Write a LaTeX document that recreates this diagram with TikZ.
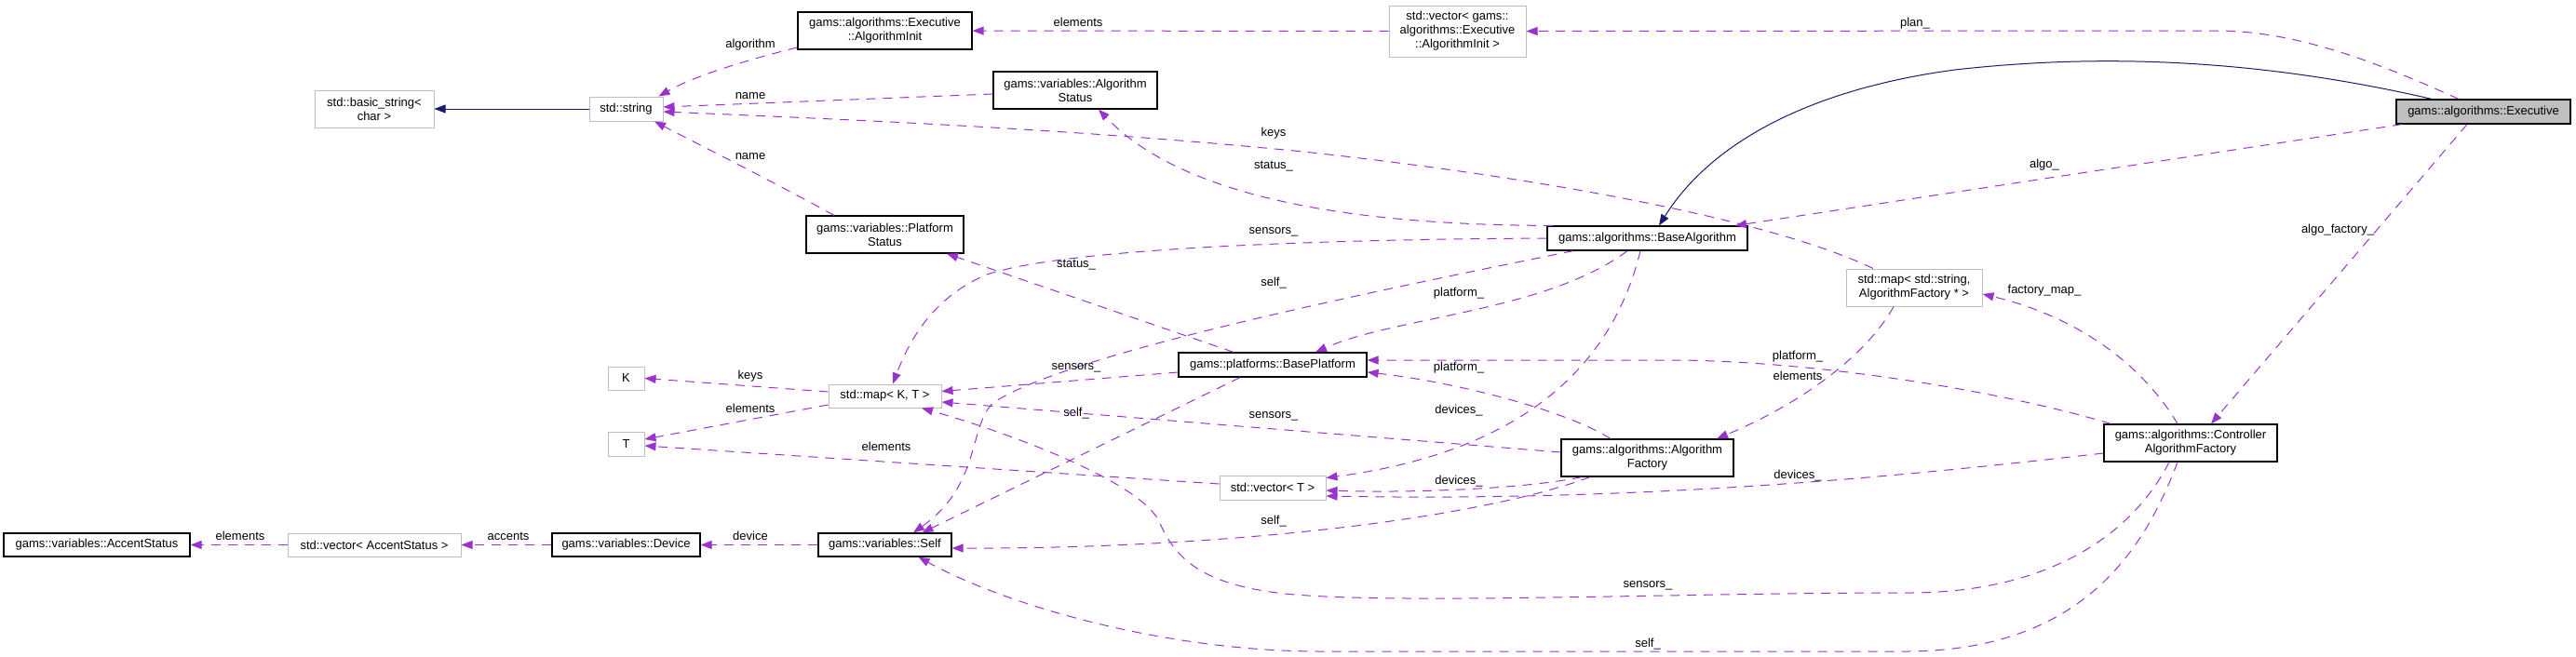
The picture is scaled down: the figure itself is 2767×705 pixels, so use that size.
\documentclass[tikz,border=0pt]{standalone}
\usepackage{fontspec}
\setmainfont{Liberation Sans}
\usepackage{tikz}
\usetikzlibrary{
arrows.meta
}
\definecolor{edgepurple}{HTML}{9A32CD}
\definecolor{inhblue}{HTML}{191970}
\definecolor{boxgray}{HTML}{BFBFBF}
\newcommand{\dxfont}{\fontsize{13}{15}\selectfont}

\begin{document}
\begin{tikzpicture}[x=1pt,y=-1pt,
  klass/.style={draw=black,line width=1.2pt,fill=white,inner sep=0pt,align=center,font=\dxfont},
  tmpl/.style={klass,draw=boxgray,line width=1pt},
  focus/.style={klass,fill=boxgray},
  member/.style={draw=edgepurple,line width=1pt,dash pattern=on 10pt off 8pt,-{Triangle[length=12pt,width=9pt]}},
  inherit/.style={draw=inhblue,line width=1pt,-{Triangle[length=12pt,width=9pt]}},
  lbl/.style={text=black,inner sep=0pt,font=\dxfont}]
      \useasboundingbox (0,0) rectangle (2767,705);
      % classes
      \node[tmpl,minimum width=128pt,minimum height=40pt] (bstr) at (402,117) {std::basic\_string<\\ char >};
      \node[tmpl,minimum width=79pt,minimum height=26pt] (str) at (672.5,117) {std::string};
      \node[klass,minimum width=187pt,minimum height=40pt] (init) at (950.5,33) {gams::algorithms::Executive\\::AlgorithmInit};
      \node[klass,minimum width=176pt,minimum height=40pt] (algst) at (1155,97) {gams::variables::Algorithm\\Status};
      \node[klass,minimum width=169pt,minimum height=40pt] (platst) at (950.5,252) {gams::variables::Platform\\Status};
      \node[tmpl,minimum width=147pt,minimum height=55pt] (vinit) at (1565.5,33.5) {std::vector< gams::\\algorithms::Executive\\::AlgorithmInit >};
      \node[klass,minimum width=215pt,minimum height=26pt] (basealg) at (1769.5,256) {gams::algorithms::BaseAlgorithm};
      \node[tmpl,minimum width=146pt,minimum height=40pt] (mapsaf) at (2056,309) {std::map< std::string,\\ AlgorithmFactory * >};
      \node[focus,minimum width=187pt,minimum height=26pt] (exec) at (2667.5,120) {gams::algorithms::Executive};
      \node[tmpl,minimum width=39pt,minimum height=25pt] (K) at (672.5,406.5) {K};
      \node[tmpl,minimum width=39pt,minimum height=26pt] (T) at (672.5,477) {T};
      \node[klass,minimum width=200pt,minimum height=25pt] (accst) at (104,585.5) {gams::variables::AccentStatus};
      \node[tmpl,minimum width=186pt,minimum height=25pt] (vaccst) at (402,585.5) {std::vector< AccentStatus >};
      \node[klass,minimum width=159pt,minimum height=25pt] (device) at (672.5,585.5) {gams::variables::Device};
      \node[tmpl,minimum width=121pt,minimum height=25pt] (mapkt) at (950.5,425.5) {std::map< K, T >};
      \node[klass,minimum width=143pt,minimum height=25pt] (self) at (950.5,585.5) {gams::variables::Self};
      \node[klass,minimum width=202pt,minimum height=26pt] (baseplat) at (1367,392) {gams::platforms::BasePlatform};
      \node[tmpl,minimum width=114pt,minimum height=26pt] (vect) at (1367,524) {std::vector< T >};
      \node[klass,minimum width=185pt,minimum height=40pt] (algfac) at (1769.5,492) {gams::algorithms::Algorithm\\Factory};
      \node[klass,minimum width=186pt,minimum height=40pt] (ctrlfac) at (2353,476) {gams::algorithms::Controller\\AlgorithmFactory};
      % inheritance
      \draw[inherit] (str) -- (bstr);
      \draw[inherit] ([xshift=-55.5pt]exec.north) .. controls (2420,62) and (2250,58) .. (2100,75) .. controls (1950,95) and (1840,150) .. ([xshift=12.5pt]basealg.north);
      % members
      \draw[member] ([yshift=-18pt]init.west) .. controls (800,65) and (745,82) .. ([xshift=-5pt]str.north east) node[lbl] (lalgorithm) at (806,48) {algorithm};
      \draw[member] (vinit) -- (init) node[lbl] (lelem1) at (1158,24) {elements};
      \draw[member] ([xshift=-26.5pt]exec.north) .. controls (2560,70) and (2470,33) .. (2380,33) -- (vinit.east) node[lbl] (lplan) at (2057,25) {plan\_};
      \draw[member] ([yshift=-4pt]algst.west) -- ([yshift=2pt]str.east) node[lbl] (lname1) at (806,103) {name};
      \draw[member] ([xshift=-44pt]mapsaf.north) .. controls (1900,235) and (1650,190) .. (1400,163) .. controls (1150,138) and (900,128) .. ([yshift=-3pt]str.east) node[lbl] (lkeys1) at (1368,143) {keys};
      \draw[member] ([xshift=-54.5pt]platst.north) .. controls (830,195) and (750,155) .. ([xshift=-9.5pt]str.south east) node[lbl] (lname2) at (806,168) {name};
      \draw[member] ([xshift=-101.5pt]basealg.north) .. controls (1450,242) and (1270,212) .. ([xshift=25pt]algst.south) node[lbl] (lstatus1) at (1368,179) {status\_};
      \draw[member] ([xshift=-87.5pt]exec.south) -- ([xshift=94.5pt]basealg.north) node[lbl] (lalgo) at (2196,177) {algo\_};
      \draw[member] (basealg.west) .. controls (1450,257) and (1150,265) .. (1060,295) .. controls (1000,320) and (975,370) .. ([xshift=8.5pt]mapkt.north) node[lbl] (lsens1) at (1368,249) {sensors\_};
      \draw[member] ([xshift=-17.5pt]exec.south) -- ([xshift=22pt]ctrlfac.north) node[lbl] (lalgofac) at (2511,247) {algo\_factory\_};
      \draw[member] ([xshift=-42pt]baseplat.north) -- ([xshift=66.5pt]platst.south) node[lbl] (lstatus2) at (1156,285) {status\_};
      \draw[member] ([xshift=-79.5pt]basealg.south) .. controls (1450,318) and (1150,380) .. (1068,432) .. controls (1040,455) and (1055,520) .. ([xshift=30.5pt]self.north) node[lbl] (lself1) at (1368,304) {self\_};
      \draw[member] ([xshift=-14pt]ctrlfac.north) .. controls (2300,390) and (2230,340) .. ([yshift=-7pt]mapsaf.east) node[lbl] (lfmap) at (2196,312) {factory\_map\_};
      \draw[member] ([xshift=-21.5pt]basealg.south) .. controls (1660,335) and (1500,340) .. ([xshift=46pt]baseplat.north) node[lbl] (lplat1) at (1567,315) {platform\_};
      \draw[member] ([xshift=8pt]ctrlfac.north west) .. controls (2150,420) and (1950,388) .. (1800,387) -- ([yshift=5pt]baseplat.east) node[lbl] (lplat2) at (1931,383) {platform\_};
      \draw[member] ([yshift=-8pt]baseplat.west) -- ([yshift=5pt]mapkt.east) node[lbl] (lsens2) at (1156,395) {sensors\_};
      \draw[member] ([xshift=-39.5pt]algfac.north) .. controls (1680,440) and (1560,410) .. ([yshift=-8pt]baseplat.east) node[lbl] (lplat3) at (1567,395) {platform\_};
      \draw[member] ([yshift=4.5pt]mapkt.west) -- (K.east) node[lbl] (lkeys2) at (806,404) {keys};
      \draw[member] ([xshift=-22pt]mapsaf.south) .. controls (2000,390) and (1920,440) .. ([xshift=74.5pt]algfac.north) node[lbl] (lelem2) at (1931,404) {elements};
      \draw[member] ([yshift=-9.5pt]mapkt.west) -- ([yshift=5pt]T.east) node[lbl] (lelem3) at (806,439) {elements};
      \draw[member] ([xshift=-7.5pt]basealg.south) .. controls (1725,420) and (1600,490) .. ([yshift=-3pt]vect.north east) node[lbl] (ldev1) at (1567,441) {devices\_};
      \draw[member] ([xshift=-35pt]baseplat.south) -- ([xshift=40pt]self.north) node[lbl] (lself2) at (1156,444) {self\_};
      \draw[member] ([yshift=6pt]algfac.west) -- ([yshift=-6.5pt]mapkt.east) node[lbl] (lsens3) at (1368,447) {sensors\_};
      \draw[member] ([yshift=4pt]vect.west) -- ([yshift=-2pt]T.east) node[lbl] (lelem4) at (952,480) {elements};
      \draw[member] ([yshift=-11pt]ctrlfac.west) .. controls (2100,505) and (1800,540) .. ([yshift=-9pt]vect.east) node[lbl] (ldev2) at (1931,511) {devices\_};
      \draw[member] ([xshift=-70.5pt]algfac.south) .. controls (1640,525) and (1520,530) .. ([yshift=-3pt]vect.east) node[lbl] (ldev3) at (1567,517) {devices\_};
      \draw[member] ([xshift=-61.5pt]algfac.south) .. controls (1580,560) and (1300,590) .. ([yshift=-3.5pt]self.east) node[lbl] (lself3) at (1368,560) {self\_};
      \draw[member] (self) -- (device) node[lbl] (ldevice) at (806,576) {device};
      \draw[member] (device) -- (vaccst) node[lbl] (laccents) at (546,576) {accents};
      \draw[member] (vaccst) -- (accst) node[lbl] (lelem5) at (258,576) {elements};
      \draw[member] ([xshift=-23pt]ctrlfac.south) .. controls (2290,575) and (2200,637) .. (2050,637) .. controls (1800,637) and (1500,650) .. (1380,638) .. controls (1290,628) and (1262,600) .. (1245,560) .. controls (1225,520) and (1100,470) .. ([xshift=39.5pt]mapkt.south) node[lbl] (lsens4) at (1770,629) {sensors\_};
      \draw[member] ([xshift=-14pt]ctrlfac.south) .. controls (2300,600) and (2230,698) .. (2050,700) -- (1420,700) .. controls (1250,700) and (1080,650) .. ([xshift=36pt]self.south) node[lbl] (lself4) at (1770,692) {self\_};
\end{tikzpicture}
\end{document}
